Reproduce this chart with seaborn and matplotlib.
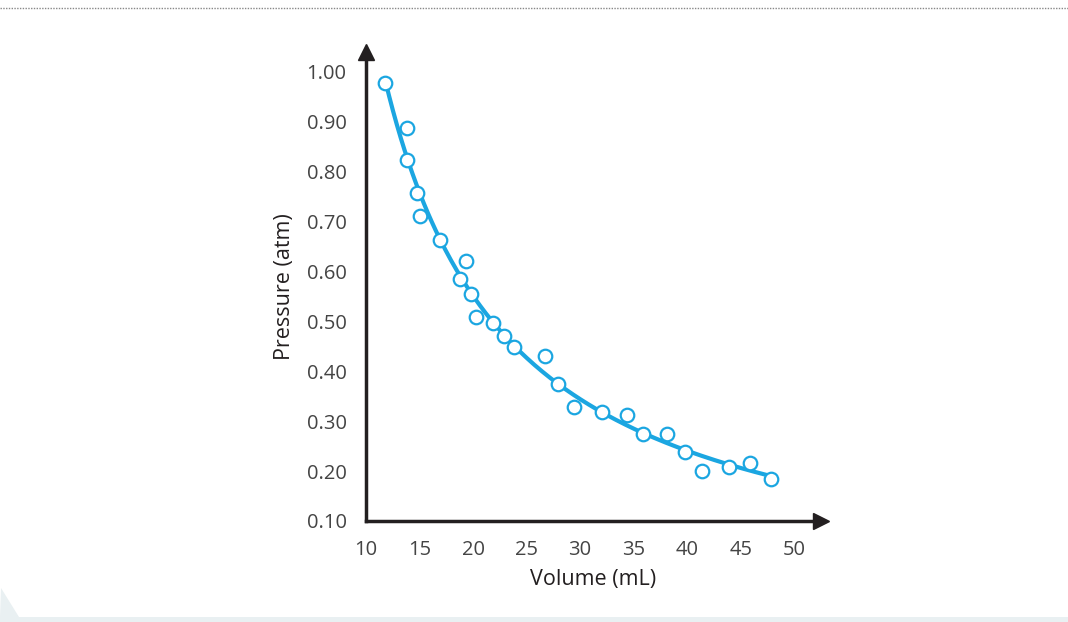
import numpy as np
import pandas as pd
import matplotlib.pyplot as plt
import seaborn as sns
from matplotlib.patches import Polygon, Rectangle
from matplotlib.lines import Line2D

volume = [11.8, 13.8, 13.8, 14.8, 15.0, 16.9, 19.3, 18.8, 19.8, 20.3, 21.9, 22.9, 23.8,
          26.7, 27.9, 29.4, 32.0, 34.4, 35.9, 38.1, 39.8, 41.4, 43.9, 45.9, 47.8]
pressure = [0.977, 0.888, 0.824, 0.757, 0.711, 0.663, 0.621, 0.585, 0.555, 0.509, 0.497,
            0.471, 0.449, 0.431, 0.375, 0.328, 0.318, 0.312, 0.274, 0.274, 0.238, 0.200,
            0.208, 0.216, 0.184]
x_ticks = [10, 15, 20, 25, 30, 35, 40, 45, 50]
y_ticks = [0.10, 0.20, 0.30, 0.40, 0.50, 0.60, 0.70, 0.80, 0.90, 1.00]

df = pd.DataFrame({'Volume': volume, 'Pressure': pressure})

# trend curve: least-squares fit of P = a/V + b
a, b = np.polyfit(1 / df['Volume'], df['Pressure'], 1)
v_fit = np.linspace(df['Volume'].min(), df['Volume'].max(), 200)
fit = pd.DataFrame({'Volume': v_fit, 'Pressure': a / v_fit + b})

blue = '#1ba6e1'
ink = '#231f20'
txt = '#444444'

sns.set_style('white')
plt.rcParams['font.family'] = ['Open Sans', 'DejaVu Sans']

fig = plt.figure(figsize=(10.68, 6.22), dpi=100)
ax = fig.add_axes([366 / 1068, 101 / 622, 455 / 1068, 469 / 622])

sns.lineplot(data=fit, x='Volume', y='Pressure', color=blue, linewidth=3, ax=ax, zorder=2)
sns.scatterplot(data=df, x='Volume', y='Pressure', s=95, facecolor='white',
                edgecolor=blue, linewidth=1.6, ax=ax, zorder=3)

ax.set_xlim(10, 52.5)
ax.set_ylim(0.10, 1.04)
ax.set_xticks(x_ticks)
ax.set_yticks(y_ticks)
ax.set_yticklabels([f'{t:.2f}' for t in y_ticks])
ax.tick_params(axis='both', direction='out', length=8, width=2, color=ink,
               labelsize=14.5, labelcolor=txt, pad=6)
ax.set_xlabel('Volume (mL)', fontsize=15.5, color=ink, labelpad=6)
ax.set_ylabel('Pressure (atm)', fontsize=15.5, color=ink, labelpad=8)

for side in ['top', 'right']:
    ax.spines[side].set_visible(False)
for side in ['left', 'bottom']:
    ax.spines[side].set_linewidth(2.5)
    ax.spines[side].set_color(ink)

# arrow heads at the ends of the axes
ax.plot(1, 0, marker='>', markersize=11, color=ink, transform=ax.transAxes, clip_on=False)
ax.plot(0, 1, marker='^', markersize=11, color=ink, transform=ax.transAxes, clip_on=False)

# page decorations: dotted rule at top, light band at bottom
fig.add_artist(Line2D([0, 1], [1 - 8 / 622, 1 - 8 / 622], color='#888888',
                      linewidth=1, linestyle=(0, (1, 1)), transform=fig.transFigure))
fig.add_artist(Rectangle((0, 0), 1, 5 / 622, color='#e9f0f2', transform=fig.transFigure, lw=0))
fig.add_artist(Polygon([[0, 5 / 622], [1 / 1068, 34 / 622], [19 / 1068, 5 / 622]],
                       closed=True, color='#e9f0f2', transform=fig.transFigure, lw=0))

plt.savefig('out.png', dpi=100)
